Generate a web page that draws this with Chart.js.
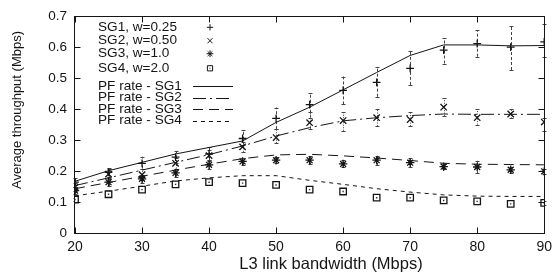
<!DOCTYPE html>
<html><head><meta charset="utf-8">
<script src="https://cdn.jsdelivr.net/npm/chart.js@4/dist/chart.umd.min.js"></script>
<style>html,body{margin:0;padding:0;background:#fff}canvas{display:block}</style>
</head><body>
<canvas id="c" width="558" height="276"></canvas>
<script>
// ---- data ----
const bandwidth = [20,25,30,35,40,45,50,55,60,65,70,75,80,85,90];

const sg1Measured = [0.164,0.196,0.225,0.245,0.255,0.305,0.370,0.414,0.460,0.486,0.531,0.590,0.611,0.600,0.617];
const sg1Low      = [0.150,0.182,0.208,0.225,0.235,0.285,0.335,0.372,0.415,0.440,0.478,0.547,0.569,0.526,0.569];
const sg1High     = [0.178,0.210,0.246,0.265,0.278,0.332,0.405,0.451,0.505,0.537,0.587,0.629,0.654,0.668,0.675];

const sg2Measured = [0.148,0.190,0.188,0.225,0.250,0.278,0.308,0.356,0.363,0.372,0.366,0.406,0.372,0.384,0.358];
const sg2Low      = [0.135,0.175,0.172,0.208,0.232,0.262,0.290,0.335,0.330,0.345,0.345,0.377,0.350,0.370,0.330];
const sg2High     = [0.160,0.205,0.205,0.242,0.268,0.295,0.335,0.390,0.390,0.400,0.392,0.435,0.400,0.400,0.372];

const sg3Measured = [0.137,0.164,0.175,0.194,0.220,0.231,0.235,0.235,0.223,0.235,0.227,0.214,0.213,0.204,0.199];
const sg3Low      = [0.127,0.152,0.162,0.182,0.205,0.220,0.226,0.222,0.212,0.220,0.212,0.205,0.193,0.195,0.190];
const sg3High     = [0.147,0.176,0.188,0.206,0.235,0.242,0.244,0.248,0.234,0.250,0.242,0.223,0.233,0.213,0.208];

const sg4Measured = [0.108,0.125,0.140,0.157,0.164,0.161,0.155,0.140,0.134,0.114,0.114,0.105,0.102,0.094,0.097];
const sg4Low      = [0.102,0.119,0.134,0.151,0.158,0.155,0.149,0.134,0.128,0.108,0.108,0.099,0.096,0.088,0.091];
const sg4High     = [0.114,0.131,0.146,0.163,0.170,0.167,0.161,0.146,0.140,0.120,0.120,0.111,0.108,0.100,0.103];

const sg1Rate = [0.167,0.201,0.228,0.255,0.276,0.297,0.357,0.406,0.462,0.518,0.573,0.607,0.607,0.604,0.605];
const sg2Rate = [0.153,0.178,0.203,0.228,0.253,0.281,0.313,0.340,0.362,0.372,0.379,0.384,0.383,0.383,0.383];
const sg3Rate = [0.143,0.163,0.183,0.203,0.222,0.240,0.252,0.254,0.249,0.242,0.234,0.225,0.222,0.221,0.220];
const sg4Rate = [0.120,0.135,0.151,0.168,0.178,0.185,0.185,0.170,0.157,0.143,0.132,0.123,0.119,0.118,0.118];

const xTickLabels = ['20','30','40','50','60','70','80','90'];
const yTickLabels = ['0','0.1','0.2','0.3','0.4','0.5','0.6','0.7'];
const pointLabels = ['SG1, w=0.25','SG2, w=0.50','SG3, w=1.0','SG4, w=2.0'];
const rateLabels  = ['PF rate - SG1','PF rate - SG2','PF rate - SG3','PF rate - SG4'];
const xTitle = 'L3 link bandwidth (Mbps)';
const yTitle = 'Average throughput (Mbps)';

// ---- styles ----
const INK = '#151515';
const FONT = "'Liberation Sans', Arial, sans-serif";
const pts = arr => bandwidth.map((b,i)=>({x:b,y:arr[i]}));

const pointStyles = [
  {style:'cross', r:3.9, data:sg1Measured, lo:sg1Low, hi:sg1High, dash:[3,2]},
  {style:'crossRot', r:4.5, data:sg2Measured, lo:sg2Low, hi:sg2High, dash:[1,1.5]},
  {style:'star', r:4.2, data:sg3Measured, lo:sg3Low, hi:sg3High, dash:[2,1]},
  {style:'rect', r:4.6, data:sg4Measured, lo:sg4Low, hi:sg4High, dash:[1,1]}
];
const rateStyles = [
  {data:sg1Rate, dash:[]},
  {data:sg2Rate, dash:[13,4,2,4]},
  {data:sg3Rate, dash:[10,6]},
  {data:sg4Rate, dash:[4,4]}
];

const datasets = [];
rateStyles.forEach((s,i)=>datasets.push({
  type:'line', label:rateLabels[i], data:pts(s.data), borderColor:INK, borderWidth:1,
  borderDash:s.dash, pointRadius:0, fill:false, tension:0, order:2
}));
pointStyles.forEach((s,i)=>datasets.push({
  type:'scatter', label:pointLabels[i], data:pts(s.data), showLine:false,
  pointStyle:s.style, pointRadius:s.r, pointBorderColor:INK, pointBackgroundColor:'#fff',
  pointBorderWidth:1.3, order:1
}));
// inner dot of square markers
datasets.push({type:'scatter', label:'', data:pts(sg4Measured), showLine:false,
  pointStyle:'rect', pointRadius:1, pointBorderWidth:0, pointBackgroundColor:'#333', order:0});

const errorBars = {
  id:'errorBars',
  beforeDatasetsDraw(chart){
    const {ctx, scales:{x,y}} = chart;
    ctx.save();
    ctx.strokeStyle = '#444'; ctx.lineWidth = 1;
    pointStyles.forEach(s=>{
      bandwidth.forEach((b,i)=>{
        const px = Math.round(x.getPixelForValue(b))+0.5;
        const y1 = y.getPixelForValue(s.lo[i]), y2 = y.getPixelForValue(s.hi[i]);
        ctx.setLineDash(s.dash);
        ctx.beginPath(); ctx.moveTo(px,y1); ctx.lineTo(px,y2); ctx.stroke();
        ctx.setLineDash([]);
        ctx.beginPath();
        ctx.moveTo(px-2,Math.round(y1)+0.5); ctx.lineTo(px+2,Math.round(y1)+0.5);
        ctx.moveTo(px-2,Math.round(y2)+0.5); ctx.lineTo(px+2,Math.round(y2)+0.5);
        ctx.stroke();
      });
    });
    ctx.restore();
  }
};

const frame = {
  id:'frame',
  afterDraw(chart){
    const {ctx, chartArea:a, scales:{x,y}} = chart;
    ctx.save();
    ctx.strokeStyle = INK; ctx.lineWidth = 1; ctx.setLineDash([]);
    const L = Math.round(a.left)-0.5, R = Math.round(a.right)+0.5, T = Math.round(a.top)+0.5, B = Math.round(a.bottom)+0.5;
    ctx.strokeRect(L, T, R-L, B-T);
    ctx.beginPath();
    x.ticks.forEach(t=>{
      const px = Math.round(x.getPixelForValue(t.value))+0.5;
      ctx.moveTo(px,B); ctx.lineTo(px,B-6);
      ctx.moveTo(px,T); ctx.lineTo(px,T+6);
    });
    y.ticks.forEach(t=>{
      const py = Math.round(y.getPixelForValue(t.value))+0.5;
      ctx.moveTo(L,py); ctx.lineTo(L+6,py);
      ctx.moveTo(R,py); ctx.lineTo(R-6,py);
    });
    ctx.stroke();

    // axis titles
    ctx.fillStyle = INK;
    ctx.textAlign = 'center'; ctx.textBaseline = 'middle';
    ctx.font = `16.5px ${FONT}`;
    ctx.fillText(xTitle, 331, 264);
    ctx.save();
    ctx.translate(17.5, 110); ctx.rotate(-Math.PI/2);
    ctx.font = `13px ${FONT}`;
    ctx.fillText(yTitle, 0, 0);
    ctx.restore();

    // legend
    ctx.font = `13.6px ${FONT}`;
    ctx.textAlign = 'left';
    const rows1 = [27.3, 40.7, 53.7, 68.3];
    const rows2 = [86, 97.7, 109.2, 120.5];
    pointStyles.forEach((s,i)=>{
      ctx.fillStyle = INK;
      ctx.fillText(pointLabels[i], 98, rows1[i]);
      ctx.strokeStyle = INK; ctx.fillStyle = '#fff';
      Chart.helpers.drawPoint(ctx, {pointStyle:s.style, radius:s.r*0.8, rotation:0, borderWidth:1}, 210, rows1[i]);
      if (s.style==='rect'){ ctx.fillStyle='#333'; ctx.fillRect(209.5, rows1[i]-0.5, 1, 1); }
    });
    rateStyles.forEach((s,i)=>{
      ctx.fillStyle = INK;
      ctx.fillText(rateLabels[i], 98, rows2[i]);
      ctx.setLineDash(s.dash);
      ctx.beginPath(); ctx.moveTo(193, Math.round(rows2[i])+0.5); ctx.lineTo(233, Math.round(rows2[i])+0.5); ctx.stroke();
      ctx.setLineDash([]);
    });
    ctx.restore();
  }
};

new Chart(document.getElementById('c'), {
  type:'scatter',
  data:{datasets},
  options:{
    responsive:false, animation:false, devicePixelRatio:1,
    layout:{padding:{top:14, right:13, left:0, bottom:0}},
    plugins:{legend:{display:false}, tooltip:{enabled:false}},
    scales:{
      x:{type:'linear', min:20, max:90,
        afterFit(s){ s.height = 43; },
        grid:{display:false, drawTicks:false}, border:{display:false},
        ticks:{stepSize:10, padding:6, color:INK, font:{family:FONT, size:14},
          callback:(v,i)=>xTickLabels[i]}},
      y:{type:'linear', min:0, max:0.7,
        afterFit(s){ s.width = 75; },
        grid:{display:false, drawTicks:false}, border:{display:false},
        ticks:{stepSize:0.1, padding:8, color:INK, font:{family:FONT, size:13.5},
          callback:(v,i)=>yTickLabels[i]}}
    }
  },
  plugins:[errorBars, frame]
});
</script>
</body></html>
